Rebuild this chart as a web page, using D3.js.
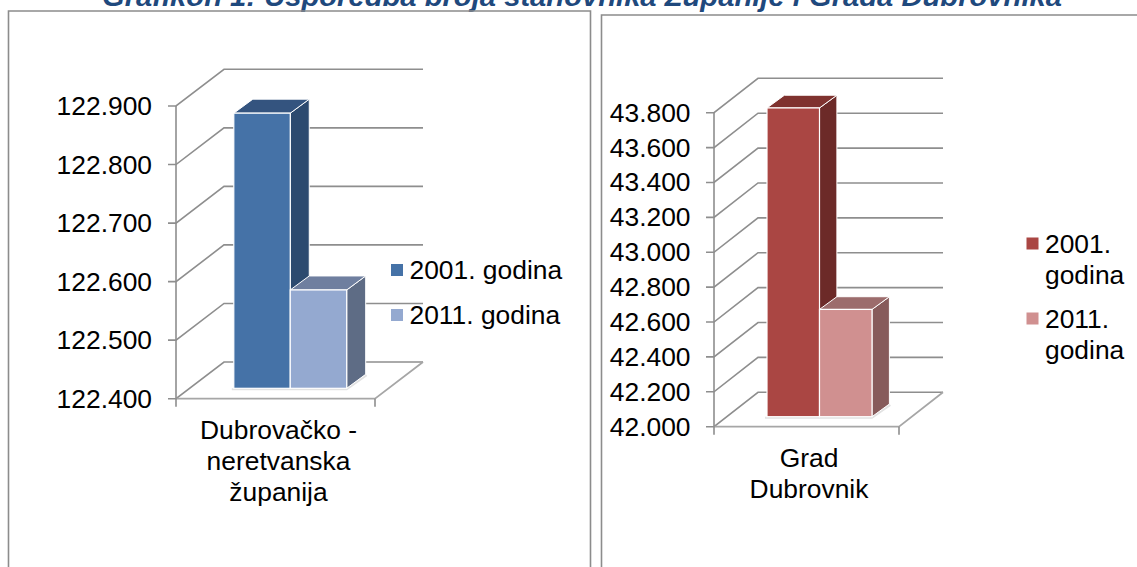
<!DOCTYPE html>
<html>
<head>
<meta charset="utf-8">
<script src="https://cdn.jsdelivr.net/npm/d3@7"></script>
<style>
  html, body { margin: 0; padding: 0; background: #fff; overflow: hidden; }
  text { font-family: "Liberation Sans", Arial, sans-serif; fill: #000; }
</style>
</head>
<body>
<div id="chart"></div>
<script>
const titleText = "Grafikon 1: Usporedba broja stanovnika Županije i Grada Dubrovnika";

const seriesNames = ["2001", "2011"];

const countyValues = [122870, 122568];
const countyTicks = [122400, 122500, 122600, 122700, 122800, 122900];
const countyCategory = ["Dubrovačko -", "neretvanska", "županija"];
const countyLegend = [["2001. godina"], ["2011. godina"]];

const cityValues = [43770, 42615];
const cityTicks = [42000, 42200, 42400, 42600, 42800, 43000, 43200, 43400, 43600, 43800];
const cityCategory = ["Grad", "Dubrovnik"];
const cityLegend = [["2001.", "godina"], ["2011.", "godina"]];

const svg = d3.select("#chart")
    .append("svg")
    .attr("width", 1137)
    .attr("height", 567);

const fmt = d3.format(",.0f");
const tickLabel = v => fmt(v).replace(",", ".");

function label(g, str, x, y, anchor) {
    return g.append("text")
        .attr("x", x)
        .attr("y", y)
        .attr("text-anchor", anchor)
        .attr("dominant-baseline", "central")
        .style("font-size", "26.4px")
        .text(str);
}

// title is cropped by the top of the picture, as in the reference
svg.append("text")
    .attr("x", 102)
    .attr("y", 6)
    .attr("textLength", 960)
    .attr("lengthAdjust", "spacingAndGlyphs")
    .style("font-size", "28px")
    .style("font-weight", "bold")
    .style("font-style", "italic")
    .style("fill", "#1f497d")
    .text(titleText);

// frames, they run off the bottom of the picture
svg.append("path")
    .attr("d", "M8.5,567V11H590.5V567")
    .attr("fill", "none").attr("stroke", "#8c8c8c").attr("stroke-width", 1.6);
svg.append("path")
    .attr("d", "M601.5,567V15H1137")
    .attr("fill", "none").attr("stroke", "#8c8c8c").attr("stroke-width", 1.6);

function drawChart(o) {
    const g = svg.append("g");
    const y = d3.scaleLinear().domain(o.domain).range(o.yRange);
    const x = d3.scaleBand().domain(seriesNames).range(o.barRange);
    const [x0, x1] = o.xRange;
    const base = o.yRange[0];
    const grid = "#8e8e8e";

    // side wall and back wall grid
    o.ticks.forEach(t => {
        g.append("path")
            .attr("d", `M${x0 - 8},${y(t)}H${x0}L${x0 + o.dx},${y(t) - o.dy}H${x1 + o.dx}`)
            .attr("fill", "none").attr("stroke", grid).attr("stroke-width", 1.6);
        label(g, tickLabel(t), o.labelX, y(t), "end");
    });

    // floor
    g.append("path")
        .attr("d", `M${x0},${base}H${x1}L${x1 + o.dx},${base - o.dy}`)
        .attr("fill", "none").attr("stroke", "#a6a6a6").attr("stroke-width", 1.8);
    g.append("path")
        .attr("d", `M${x0},${y(o.domain[1])}V${base + 8}M${x1},${base}V${base + 8}`)
        .attr("fill", "none").attr("stroke", grid).attr("stroke-width", 1.6);

    // bars, front plane sits a little inside the floor
    const by = v => y(v) - o.inset;
    const byBase = base - o.inset;
    const w = x.bandwidth();

    g.append("path")
        .attr("d", `M${o.barRange[0] - 2},${byBase + 1}H${o.barRange[1]}L${o.barRange[1] + o.barDx + 1},${byBase - o.barDy + 1}`)
        .attr("fill", "none").attr("stroke", "#e2e2e2").attr("stroke-width", 2);

    const bars = g.selectAll("g.bar")
        .data(o.values)
        .enter()
        .append("g")
        .attr("class", "bar");

    // side face first so the front edge stays clean
    bars.append("path")
        .attr("d", (d, i) => {
            const r = x(seriesNames[i]) + w;
            return `M${r},${by(d)}l${o.barDx},${-o.barDy}V${byBase - o.barDy}L${r},${byBase}Z`;
        })
        .attr("fill", (d, i) => o.colors[i].side)
        .attr("stroke", "#fff").attr("stroke-width", 1);

    bars.append("path")
        .attr("d", (d, i) => {
            const l = x(seriesNames[i]);
            return `M${l},${by(d)}l${o.barDx},${-o.barDy}h${w}l${-o.barDx},${o.barDy}Z`;
        })
        .attr("fill", (d, i) => o.colors[i].top)
        .attr("stroke", "#fff").attr("stroke-width", 1);

    bars.append("rect")
        .attr("x", (d, i) => x(seriesNames[i]))
        .attr("y", d => by(d))
        .attr("width", w)
        .attr("height", d => byBase - by(d))
        .attr("fill", (d, i) => o.colors[i].front)
        .attr("stroke", "#fff").attr("stroke-width", 1.2);

    // category label
    o.category.forEach((line, i) => {
        label(g, line, o.catX, o.catY + i * o.catStep, "middle");
    });

    // legend
    o.legend.forEach((lines, i) => {
        const ly = o.legendY[i];
        g.append("rect")
            .attr("x", o.legendX)
            .attr("y", ly - 6)
            .attr("width", 12)
            .attr("height", 12)
            .attr("fill", o.colors[i].front);
        lines.forEach((line, k) => {
            label(g, line, o.legendX + 18.5, ly + k * 31.5, "start");
        });
    });
}

drawChart({
    values: countyValues,
    ticks: countyTicks,
    domain: [122400, 122900],
    yRange: [398.7, 106],
    xRange: [176, 375],
    dx: 48,
    dy: 36.7,
    inset: 10.4,
    barRange: [233.8, 346.7],
    barDx: 19,
    barDy: 14,
    labelX: 152,
    category: countyCategory,
    catX: 278.5,
    catY: 430,
    catStep: 31,
    legend: countyLegend,
    legendX: 391,
    legendY: [270, 315],
    colors: [
        { front: "#4572a7", top: "#34547f", side: "#2c4a6f" },
        { front: "#94a9d0", top: "#6f7f9f", side: "#5e6c85" }
    ]
});

drawChart({
    values: cityValues,
    ticks: cityTicks,
    domain: [42000, 43800],
    yRange: [426.7, 112.7],
    xRange: [714, 899],
    dx: 44,
    dy: 34.4,
    inset: 10,
    barRange: [767, 872],
    barDx: 17.4,
    barDy: 12.7,
    labelX: 690.5,
    category: cityCategory,
    catX: 809,
    catY: 457.7,
    catStep: 31.3,
    legend: cityLegend,
    legendX: 1026.5,
    legendY: [243.5, 318.5],
    colors: [
        { front: "#aa4643", top: "#7f322f", side: "#6c2a28" },
        { front: "#d09090", top: "#9c6c6c", side: "#875b5b" }
    ]
});
</script>
</body>
</html>
